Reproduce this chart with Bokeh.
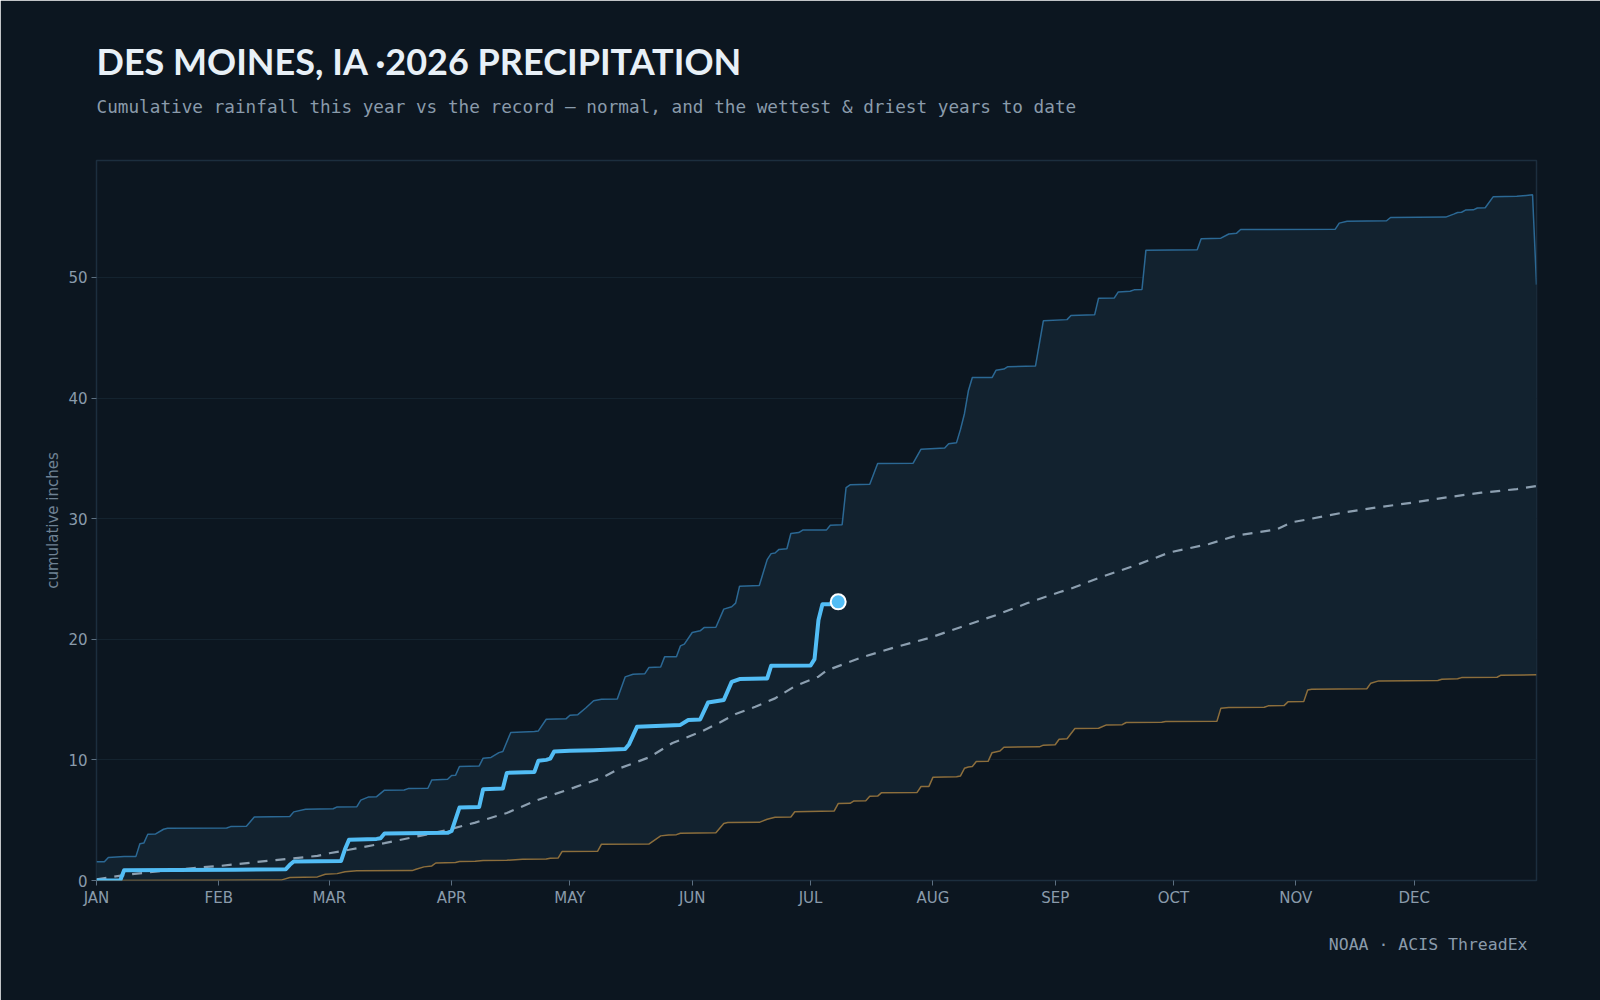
from bokeh.plotting import figure
from bokeh.models import Title, FixedTicker, Range1d
from bokeh.embed import file_html
from bokeh.resources import INLINE

# Month boundaries (day of year) and their tick labels
MONTH_START = [0, 31, 59, 90, 120, 151, 181, 212, 243, 273, 304, 334]
MONTH_LABELS = ["JAN", "FEB", "MAR", "APR", "MAY", "JUN",
                "JUL", "AUG", "SEP", "OCT", "NOV", "DEC"]

# Wettest year on record, cumulative inches by day of year
WET_DAY = [0, 2, 3, 7, 10, 11, 12, 13, 15, 17, 18, 33, 34, 38, 40, 49, 50, 53, 60, 61,
           66, 67, 69, 71, 73, 78, 79, 84, 85, 89, 90, 91, 92, 97, 98, 100, 102, 103, 105, 111,
           112, 114, 119, 120, 122, 124, 126, 128, 132, 134, 136, 139, 140, 143, 144, 147, 148, 149, 151, 153,
           154, 157, 159, 161, 162, 163, 168, 170, 171, 172, 173, 175, 176, 178, 179, 185, 186, 189, 190, 191,
           196, 198, 207, 209, 215, 216, 218, 219, 220, 221, 222, 227, 228, 230, 231, 238, 240, 246, 247, 253,
           254, 258, 259, 262, 263, 265, 266, 279, 280, 285, 287, 289, 290, 314, 315, 317, 327, 328, 342, 344,
           345, 346, 347, 349, 350, 352, 354, 360, 364, 365]
WET_IN = [1.55, 1.55, 1.9, 1.98, 2.0, 3.05, 3.1, 3.84, 3.86, 4.25, 4.33, 4.35, 4.47, 4.5, 5.27, 5.3, 5.69, 5.9, 5.95, 6.1,
          6.12, 6.66, 6.93, 6.95, 7.49, 7.5, 7.62, 7.65, 8.34, 8.4, 8.7, 8.72, 9.45, 9.5, 10.14, 10.2, 10.6, 10.7, 12.27, 12.35,
          12.4, 13.37, 13.4, 13.7, 13.75, 14.3, 14.9, 15.03, 15.05, 16.88, 17.1, 17.15, 17.65, 17.7, 18.54, 18.55, 19.45, 19.6, 20.56, 20.7,
          20.97, 21.0, 22.5, 22.7, 23.0, 24.4, 24.45, 26.6, 27.1, 27.15, 27.45, 27.5, 28.77, 28.85, 29.05, 29.05, 29.46, 29.5, 32.58, 32.8,
          32.85, 34.57, 34.6, 35.76, 35.85, 36.2, 36.3, 37.4, 38.7, 40.6, 41.7, 41.7, 42.3, 42.4, 42.6, 42.65, 46.4, 46.5, 46.85, 46.9,
          48.28, 48.3, 48.8, 48.85, 48.97, 49.0, 52.26, 52.3, 53.2, 53.25, 53.6, 53.67, 53.97, 54.0, 54.5, 54.66, 54.7, 54.97, 55.0, 55.25,
          55.38, 55.4, 55.58, 55.6, 55.75, 55.78, 56.68, 56.72, 56.85, 49.4]

# Driest year on record
DRY_DAY = [0, 30, 47, 49, 56, 58, 61, 63, 66, 80, 81, 83, 85, 86, 91, 92, 96, 98, 104, 108,
           114, 115, 117, 118, 127, 128, 140, 143, 145, 147, 148, 157, 159, 160, 168, 170, 172, 176, 177, 187,
           188, 191, 192, 195, 196, 198, 199, 208, 209, 211, 212, 218, 219, 220, 221, 222, 223, 226, 227, 229,
           230, 239, 240, 243, 244, 246, 248, 254, 256, 260, 261, 270, 271, 284, 285, 287, 296, 297, 301, 302,
           306, 307, 308, 322, 323, 325, 340, 341, 345, 346, 355, 356, 365]
DRY_IN = [0.0, 0.02, 0.05, 0.25, 0.3, 0.52, 0.57, 0.73, 0.8, 0.82, 0.93, 1.13, 1.21, 1.45, 1.5, 1.57, 1.6, 1.65, 1.68, 1.76,
          1.78, 1.84, 1.86, 2.4, 2.42, 3.01, 3.02, 3.7, 3.78, 3.8, 3.92, 3.95, 4.72, 4.8, 4.82, 5.08, 5.25, 5.27, 5.7, 5.77,
          6.38, 6.4, 6.6, 6.62, 6.98, 7.0, 7.28, 7.3, 7.79, 7.8, 8.55, 8.6, 8.67, 9.3, 9.41, 9.45, 9.86, 9.88, 10.6, 10.74,
          11.05, 11.08, 11.22, 11.25, 11.71, 11.75, 12.6, 12.62, 12.9, 12.92, 13.1, 13.12, 13.18, 13.2, 14.29, 14.34, 14.36, 14.48, 14.5, 14.81,
          14.83, 15.8, 15.86, 15.9, 16.36, 16.55, 16.58, 16.69, 16.72, 16.82, 16.85, 17.02, 17.05]

# 30-year normal
NORMAL_DAY = [0, 8, 17, 28, 31, 45, 56, 59, 64, 73, 82, 89, 96, 104, 112, 121, 128, 133, 140, 146,
              153, 158, 162, 167, 172, 177, 183, 185, 194, 202, 211, 219, 228, 236, 244, 247, 255, 264, 272, 282,
              289, 299, 303, 308, 316, 325, 334, 343, 351, 360, 365]
NORMAL_IN = [0.1, 0.5, 0.8, 1.13, 1.2, 1.68, 2.04, 2.26, 2.55, 3.1, 3.7, 4.2, 4.8, 5.6, 6.7, 7.7, 8.5, 9.35, 10.2, 11.4,
             12.3, 13.1, 13.8, 14.4, 15.1, 16.1, 16.9, 17.4, 18.5, 19.3, 20.1, 21.0, 22.0, 23.0, 23.9, 24.2, 25.2, 26.2, 27.2, 27.9,
             28.6, 29.1, 29.7, 30.0, 30.5, 30.95, 31.35, 31.8, 32.15, 32.45, 32.7]

# 2026 so far
YEAR_DAY = [0, 6, 7, 20, 35, 48, 49, 50, 62, 63, 64, 71, 72, 73, 89, 90, 92, 97, 98, 103,
            104, 111, 112, 114, 115, 116, 120, 126, 134, 135, 137, 148, 150, 153, 155, 159, 161, 163, 170, 171,
            181, 182, 183, 184, 187, 188]
YEAR_IN = [0.0, 0.0, 0.85, 0.88, 0.9, 0.94, 1.3, 1.57, 1.62, 2.6, 3.37, 3.45, 3.5, 3.89, 3.95, 4.1, 6.05, 6.1, 7.57, 7.62,
           8.92, 9.0, 9.92, 10.0, 10.1, 10.7, 10.75, 10.8, 10.9, 11.3, 12.74, 12.9, 13.3, 13.35, 14.75, 14.97, 16.47, 16.7, 16.75, 17.8,
           17.82, 18.35, 21.6, 22.9, 22.9, 23.1]

BG = "#0c1620"
MUTED = "#8a9bab"

p = figure(width=1600, height=1000, output_backend="svg", toolbar_location=None,
           title_location=None,
           x_range=Range1d(0, 365), y_range=Range1d(0, max(WET_IN) * 1.05),
           min_border_left=96, min_border_right=64, min_border_top=160, min_border_bottom=120)
p.background_fill_color = BG
p.border_fill_color = BG
p.outline_line_color = "#1c2e3e"
p.outline_line_width = 1.5

# record envelope between driest and wettest years
p.patch(WET_DAY + DRY_DAY[::-1], WET_IN + DRY_IN[::-1], fill_color="#12222f", line_color=None)
p.line(WET_DAY, WET_IN, line_color="#2b6894", line_width=1.5)
p.line(DRY_DAY, DRY_IN, line_color="#8c6e3c", line_width=1.5)
p.line(NORMAL_DAY, NORMAL_IN, line_color="#8c9fb0", line_width=2.2, line_dash="10 8")
p.line(YEAR_DAY, YEAR_IN, line_color="#52bdf5", line_width=4, line_join="round")
p.scatter([YEAR_DAY[-1]], [YEAR_IN[-1]], size=15, fill_color="#52bdf5",
          line_color="#ffffff", line_width=2)

p.xgrid.grid_line_color = None
p.ygrid.grid_line_color = "#14232f"
p.ygrid.ticker = FixedTicker(ticks=[0, 10, 20, 30, 40, 50])

p.xaxis.ticker = FixedTicker(ticks=MONTH_START)
p.xaxis.major_label_overrides = {d: m for d, m in zip(MONTH_START, MONTH_LABELS)}
p.yaxis.ticker = FixedTicker(ticks=[0, 10, 20, 30, 40, 50])
p.yaxis.axis_label = "cumulative inches"

for ax in (p.xaxis[0], p.yaxis[0]):
    ax.axis_line_color = None
    ax.major_tick_line_color = "#5d7082"
    ax.major_tick_out = 5
    ax.major_tick_in = 0
    ax.minor_tick_line_color = None
    ax.major_label_text_color = MUTED
    ax.major_label_text_font = "DejaVu Sans"
    ax.major_label_text_font_size = "15px"
    ax.major_label_standoff = 4
p.xaxis.major_label_standoff = 3
p.yaxis.axis_label_text_color = "#6f8294"
p.yaxis.axis_label_text_font = "DejaVu Sans"
p.yaxis.axis_label_text_font_size = "15px"
p.yaxis.axis_label_text_font_style = "normal"
p.yaxis.axis_label_standoff = 3

# header: the first title added sits closest to the frame
p.add_layout(Title(text="Cumulative rainfall this year vs the record — normal, and the wettest & driest years to date",
                   text_font="DejaVu Sans Mono", text_font_size="17.7px", text_font_style="normal",
                   text_color=MUTED, align="left", standoff=87), "above")
p.add_layout(Title(text="DES MOINES, IA ·2026 PRECIPITATION", text_font="Lato",
                   text_font_style="bold", text_font_size="36px", text_color="#e8f0f7",
                   align="left", standoff=-63), "above")
p.add_layout(Title(text="NOAA · ACIS ThreadEx", text_font="DejaVu Sans Mono",
                   text_font_size="16.5px", text_font_style="normal", text_color=MUTED,
                   align="right", offset=9, standoff=46), "below")

open("out.html", "w").write(file_html(p, INLINE))
